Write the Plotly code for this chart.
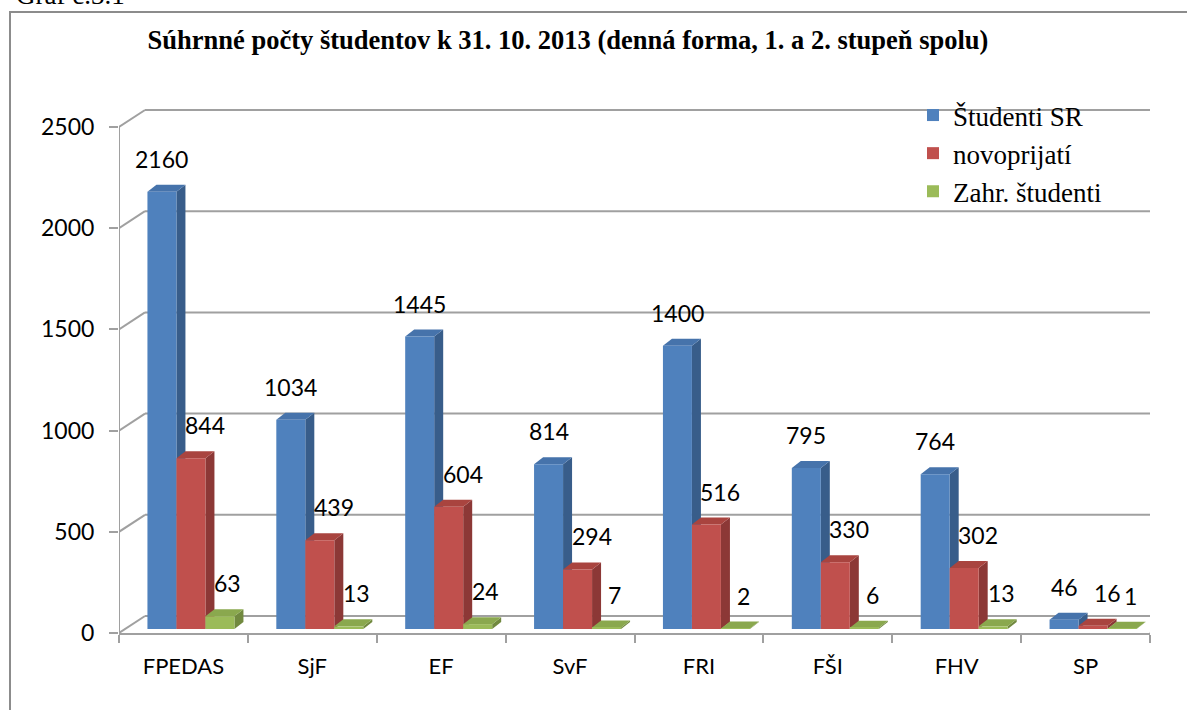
import plotly.graph_objects as go

# ---------------- data ----------------
categories = ["FPEDAS", "SjF", "EF", "SvF", "FRI", "FŠI", "FHV", "SP"]
studenti_sr = [2160, 1034, 1445, 814, 1400, 795, 764, 46]
novoprijati = [844, 439, 604, 294, 516, 330, 302, 16]
zahr_studenti = [63, 13, 24, 7, 2, 6, 13, 1]
series_names = ["Študenti SR", "novoprijatí", "Zahr. študenti"]
y_ticks = [0, 500, 1000, 1500, 2000, 2500]
title_text = "Súhrnné počty študentov k 31. 10. 2013 (denná forma, 1. a 2. stupeň spolu)"
caption_text = "Graf č.3.1"

# ---------------- geometry helpers ----------------
W, H = 1187, 710
L, R = 119, 1150          # plot area (front plane) in px
T, B = 95, 633
N = len(categories)
PXX = (R - L) / N         # px per category
PXY = 506 / 2500          # px per value unit
YMAX = (B - T) / PXY


def dx(px):
    return px / PXX


def dy(px):
    return px / PXY


def paper_x(px):
    return (px - L) / (R - L)


def paper_y(py):
    return (B - py) / (B - T)


BASE = dy(4)                       # bar plane lies slightly behind front plane
BAR_W = dx(29)
offsets = [dx(-36), dx(-7), dx(22)]
DEPTH_X, DEPTH_Y = dx(9), dy(7)    # bar depth
WALL_X, WALL_Y = dx(26), dy(17)    # back wall offset
label_xshift = [0, 14, 8]

fronts = ["#4F81BD", "#C0504D", "#9BBB59"]
sides = ["#385D8A", "#8C3836", "#71893F"]
tops = ["#4673AB", "#A9443F", "#8AA84E"]
GRID = "#A0A0A0"
NUM_FONT = dict(family="Lato, Open Sans, sans-serif", size=23, color="black")
CAT_FONT = dict(family="Lato, Open Sans, sans-serif", size=22, color="black")
SERIF = "Liberation Serif, Times New Roman, serif"

series = [studenti_sr, novoprijati, zahr_studenti]
xs = list(range(N))

fig = go.Figure()
shapes = []
annotations = []

# back wall gridlines + slanted connectors
for v in y_ticks:
    shapes.append(dict(type="line", xref="x", yref="y", layer="below",
                       x0=-0.5 + WALL_X, x1=N - 0.5 + WALL_X,
                       y0=v + WALL_Y, y1=v + WALL_Y,
                       line=dict(color=GRID, width=2)))
    shapes.append(dict(type="line", xref="x", yref="y", layer="below",
                       x0=-0.5, x1=-0.5 + WALL_X, y0=v, y1=v + WALL_Y,
                       line=dict(color=GRID, width=2)))
# floor right edge
shapes.append(dict(type="line", xref="x", yref="y", layer="below",
                   x0=N - 0.5, x1=N - 0.5 + WALL_X, y0=0, y1=WALL_Y,
                   line=dict(color=GRID, width=2)))
# front vertical axis line
shapes.append(dict(type="line", xref="x", yref="y", layer="below",
                   x0=-0.5, x1=-0.5, y0=0, y1=y_ticks[-1],
                   line=dict(color=GRID, width=2)))

for s, vals in enumerate(series):
    fig.add_trace(go.Bar(
        x=xs, y=vals, base=[BASE] * N,
        offset=offsets[s], width=BAR_W,
        marker=dict(color=fronts[s], line=dict(width=0)),
        name=series_names[s], legendgroup=series_names[s],
    ))
    for i, v in enumerate(vals):
        xl = i + offsets[s]
        xr = xl + BAR_W
        top = BASE + v
        # side face
        shapes.append(dict(
            type="path", xref="x", yref="y", layer="between",
            path=(f"M {xr} {BASE} L {xr + DEPTH_X} {BASE + DEPTH_Y} "
                  f"L {xr + DEPTH_X} {top + DEPTH_Y} L {xr} {top} Z"),
            fillcolor=sides[s], line=dict(width=0)))
        # top face
        shapes.append(dict(
            type="path", xref="x", yref="y", layer="between",
            path=(f"M {xl} {top} L {xl + DEPTH_X} {top + DEPTH_Y} "
                  f"L {xr + DEPTH_X} {top + DEPTH_Y} L {xr} {top} Z"),
            fillcolor=tops[s], line=dict(width=0)))
        annotations.append(dict(
            x=xl + BAR_W / 2, y=top, xref="x", yref="y",
            text=str(v), showarrow=False, xanchor="center", yanchor="middle",
            xshift=label_xshift[s], yshift=33, font=NUM_FONT))

# outer frame
shapes.append(dict(type="rect", xref="paper", yref="paper", layer="below",
                   x0=paper_x(10), x1=paper_x(1200), y0=paper_y(720), y1=paper_y(12),
                   line=dict(color="#8C8C8C", width=2), fillcolor="rgba(0,0,0,0)"))

# caption (cut at the top as in the source page)
annotations.append(dict(x=paper_x(14), y=paper_y(12), xref="paper", yref="paper",
                        text=caption_text, showarrow=False, xanchor="left", yanchor="bottom",
                        font=dict(family=SERIF, size=27, color="black")))

fig.update_layout(
    width=W, height=H,
    margin=dict(l=L, r=W - R, t=T, b=H - B, pad=0),
    paper_bgcolor="white", plot_bgcolor="white",
    barmode="overlay",
    showlegend=True,
    title=dict(text=f"<b>{title_text}</b>", x=paper_x(568), xref="paper", xanchor="center",
               y=1 - 40 / H, yref="container", yanchor="middle",
               font=dict(family=SERIF, size=26.5, color="black")),
    legend=dict(x=paper_x(913), y=paper_y(91), xanchor="left", yanchor="top",
                bgcolor="rgba(255,255,255,0)", traceorder="normal",
                font=dict(family=SERIF, size=27, color="black")),
    xaxis=dict(range=[-0.5, N - 0.5], tickmode="array", tickvals=xs, ticktext=categories,
               ticks="", showgrid=False, zeroline=False, showline=True,
               linecolor=GRID, linewidth=2, tickfont=CAT_FONT, ticklabelstandoff=13,
               minor=dict(tickmode="array", tickvals=[i - 0.5 for i in range(N + 1)],
                          ticks="outside", ticklen=8, tickwidth=2, tickcolor=GRID,
                          showgrid=False)),
    yaxis=dict(range=[0, YMAX], tickmode="array", tickvals=y_ticks,
               ticks="outside", ticklen=9, tickwidth=2, tickcolor=GRID,
               showgrid=False, zeroline=False, showline=False,
               tickfont=NUM_FONT, ticklabelstandoff=10),
    shapes=shapes,
    annotations=annotations,
)

fig.write_html("out.html", config={"displayModeBar": False},
               post_script="document.body.style.margin='0';")
